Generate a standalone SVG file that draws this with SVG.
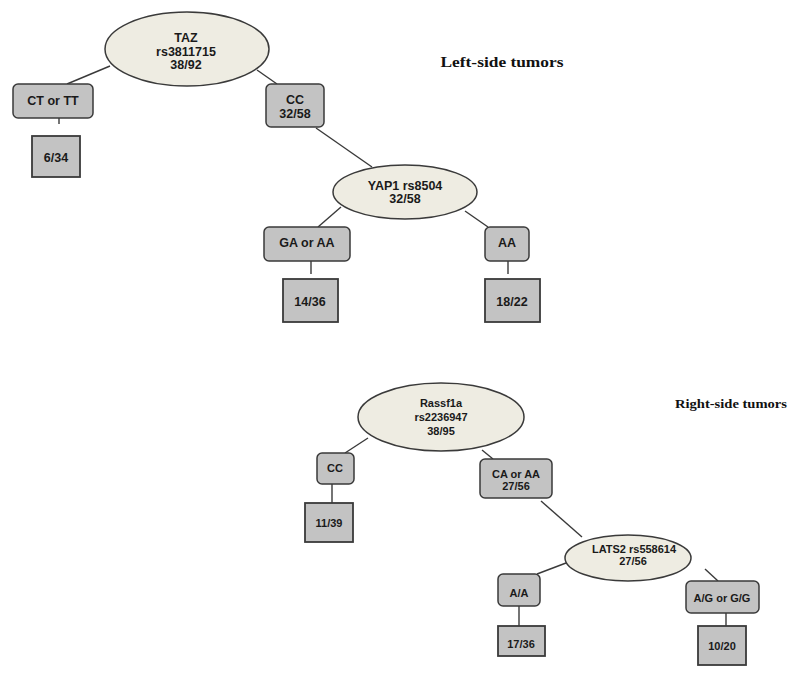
<svg xmlns="http://www.w3.org/2000/svg" width="800" height="678" viewBox="0 0 800 678">
<style>
.ell{fill:#eeece2;stroke:#3a3a3a;stroke-width:1.5}
.box{fill:#c3c3c3;stroke:#3a3a3a;stroke-width:1.5}
.leaf{fill:#c3c3c3;stroke:#3a3a3a;stroke-width:1.8}
.t{font-family:"Liberation Sans",Arial,sans-serif;font-weight:bold;font-size:12.5px;fill:#1a1a1a;text-anchor:middle}
.s{font-size:11px}
.title{font-family:"Liberation Serif","DejaVu Serif",serif;font-weight:bold;fill:#111}
#connectors line{stroke:#3a3a3a;stroke-width:1.4}
</style>
<rect width="800" height="678" fill="#ffffff"/>
<g id="connectors">
<line x1="67" y1="84" x2="110" y2="66"/>
<line x1="257" y1="70" x2="277" y2="84"/>
<line x1="59" y1="118" x2="59" y2="124"/>
<line x1="316" y1="128" x2="372" y2="167"/>
<line x1="341" y1="207" x2="318" y2="227"/>
<line x1="465" y1="211" x2="488" y2="227"/>
<line x1="311" y1="261" x2="311" y2="274"/>
<line x1="508" y1="261" x2="508" y2="274"/>
<line x1="368" y1="438" x2="345" y2="453"/>
<line x1="482" y1="450" x2="493" y2="459"/>
<line x1="332" y1="484" x2="332" y2="503"/>
<line x1="541" y1="501" x2="582" y2="537"/>
<line x1="566" y1="563" x2="537" y2="574"/>
<line x1="705" y1="569" x2="718" y2="581"/>
<line x1="519" y1="606" x2="519" y2="626"/>
<line x1="726" y1="613" x2="726" y2="626"/>
</g>
<g id="taz">
<ellipse class="ell" cx="187" cy="49" rx="82" ry="37"/>
<text class="t" x="186" y="42">TAZ</text>
<text class="t" x="186" y="56">rs3811715</text>
<text class="t" x="186" y="69">38/92</text>
</g>
<g id="ct-tt">
<rect class="box" x="13" y="84" width="80" height="34" rx="5"/>
<text class="t" x="53" y="105">CT or TT</text>
</g>
<g id="leaf-6-34">
<rect class="leaf" x="32" y="136" width="48" height="41"/>
<text class="t" x="56" y="162">6/34</text>
</g>
<g id="cc-top">
<rect class="box" x="266" y="84" width="58" height="43" rx="5"/>
<text class="t" x="295" y="104">CC</text>
<text class="t" x="295" y="118">32/58</text>
</g>
<g id="yap1">
<ellipse class="ell" cx="405" cy="192" rx="72" ry="27"/>
<text class="t" x="405" y="190">YAP1 rs8504</text>
<text class="t" x="405" y="203">32/58</text>
</g>
<g id="ga-aa">
<rect class="box" x="264" y="227" width="86" height="34" rx="5"/>
<text class="t" x="307" y="247">GA or AA</text>
</g>
<g id="leaf-14-36">
<rect class="leaf" x="283" y="279" width="55" height="43"/>
<text class="t" x="310" y="306">14/36</text>
</g>
<g id="aa">
<rect class="box" x="485" y="227" width="44" height="34" rx="5"/>
<text class="t" x="507" y="247">AA</text>
</g>
<g id="leaf-18-22">
<rect class="leaf" x="485" y="279" width="55" height="43"/>
<text class="t" x="512" y="306">18/22</text>
</g>
<text class="title" x="502" y="67" font-size="14" text-anchor="middle" textLength="123" lengthAdjust="spacingAndGlyphs">Left-side tumors</text>
<g id="rassf1a">
<ellipse class="ell" cx="441" cy="417" rx="83" ry="34"/>
<text class="t s" x="441" y="407">Rassf1a</text>
<text class="t s" x="441" y="421">rs2236947</text>
<text class="t s" x="441" y="435">38/95</text>
</g>
<g id="cc-bottom">
<rect class="box" x="317" y="453" width="37" height="31" rx="5"/>
<text class="t s" x="335" y="472">CC</text>
</g>
<g id="leaf-11-39">
<rect class="leaf" x="305" y="503" width="48" height="39"/>
<text class="t s" x="329" y="527">11/39</text>
</g>
<g id="ca-aa">
<rect class="box" x="480" y="459" width="72" height="39" rx="5"/>
<text class="t s" x="516" y="478">CA or AA</text>
<text class="t s" x="516" y="490">27/56</text>
</g>
<g id="lats2">
<ellipse class="ell" cx="628" cy="558" rx="63" ry="23"/>
<text class="t s" x="634" y="553">LATS2 rs558614</text>
<text class="t s" x="633" y="565">27/56</text>
</g>
<g id="a-a">
<rect class="box" x="498" y="574" width="42" height="32" rx="5"/>
<text class="t s" x="519" y="597">A/A</text>
</g>
<g id="leaf-17-36">
<rect class="leaf" x="498" y="626" width="47" height="30"/>
<text class="t s" x="521" y="648">17/36</text>
</g>
<g id="ag-gg">
<rect class="box" x="686" y="581" width="73" height="32" rx="5"/>
<text class="t s" x="722" y="602">A/G or G/G</text>
</g>
<g id="leaf-10-20">
<rect class="leaf" x="698" y="626" width="48" height="39"/>
<text class="t s" x="722" y="650">10/20</text>
</g>
<text class="title" x="731" y="408" font-size="13" text-anchor="middle" textLength="112" lengthAdjust="spacingAndGlyphs">Right-side tumors</text>
</svg>
